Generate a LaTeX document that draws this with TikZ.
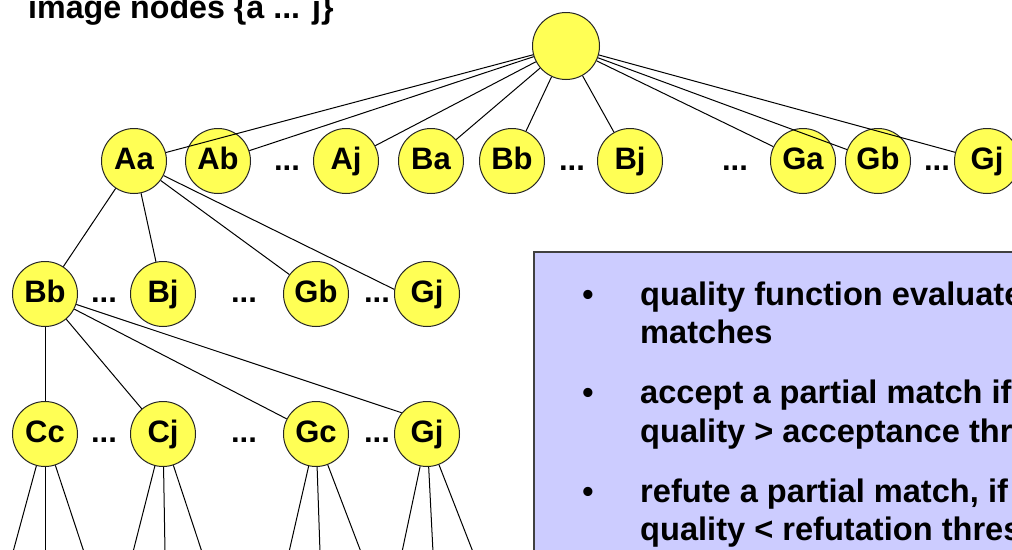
\documentclass[tikz,border=0pt]{standalone}
\usepackage{fontspec}
\setmainfont{Liberation Sans}
\definecolor{nodeyellow}{HTML}{FFFF55}
\definecolor{boxblue}{HTML}{CCCCFF}
\definecolor{boxedge}{HTML}{404040}
\begin{document}
\begin{tikzpicture}[x=1pt,y=-1pt,
  nd/.style={circle,draw=black!85,line width=1pt,fill=nodeyellow,minimum size=65pt,inner sep=0pt,
    font=\fontsize{31}{31}\selectfont\bfseries,text height=23pt,text depth=6pt},
  dots/.style={anchor=base,inner sep=0pt,font=\fontsize{31}{31}\selectfont\bfseries},
  edge/.style={line width=1pt,black},
  txt/.style={anchor=base west,inner sep=0pt,font=\fontsize{32.6}{32.6}\selectfont\bfseries},
  bul/.style={anchor=base,inner sep=0pt,font=\fontsize{32}{32}\selectfont\bfseries},
  title/.style={anchor=base west,inner sep=0pt,font=\fontsize{32.2}{32.2}\selectfont\bfseries}]
\useasboundingbox (0,0) rectangle (1012,549);
\clip (0,0) rectangle (1012,549);
\fill[white] (0,0) rectangle (1012,549);

% title
\node[title] (title) at (28,18) {image nodes \{a ... j\}};

% root
\node[nd,minimum size=67pt] (root) at (566,46) {};

% row 1
\node[nd] (Aa) at (134,161) {Aa};
\node[nd] (Ab) at (218,161) {Ab};
\node[dots] (d11) at (287,170) {...};
\node[nd] (Aj) at (346,161) {Aj};
\node[nd] (Ba) at (431,161) {Ba};
\node[nd] (Bb) at (512,161) {Bb};
\node[dots] (d12) at (572,170) {...};
\node[nd] (Bj) at (630,161) {Bj};
\node[dots] (d13) at (735,170) {...};
\node[nd] (Ga) at (803,161) {Ga};
\node[nd] (Gb) at (878,161) {Gb};
\node[dots] (d14) at (937,170) {...};
\node[nd] (Gj) at (987,161) {Gj};

% row 2
\node[nd] (Bb2) at (45,294) {Bb};
\node[dots] (d21) at (104,302) {...};
\node[nd] (Bj2) at (163,294) {Bj};
\node[dots] (d22) at (244,302) {...};
\node[nd] (Gb2) at (316,294) {Gb};
\node[dots] (d23) at (377,302) {...};
\node[nd] (Gj2) at (427,294) {Gj};

% row 3
\node[nd] (Cc) at (45,434) {Cc};
\node[dots] (d31) at (104,442) {...};
\node[nd] (Cj) at (163,434) {Cj};
\node[dots] (d32) at (244,442) {...};
\node[nd] (Gc) at (316,434) {Gc};
\node[dots] (d33) at (377,442) {...};
\node[nd] (Gj3) at (427,434) {Gj};

% free ends at the bottom
\coordinate (c1) at (13,552);  \coordinate (c2) at (45,552);  \coordinate (c3) at (84,552);
\coordinate (c4) at (133,552); \coordinate (c5) at (165,552); \coordinate (c6) at (202,552);
\coordinate (c7) at (289,552); \coordinate (c8) at (320,552); \coordinate (c9) at (361,552);
\coordinate (c10) at (402,552); \coordinate (c11) at (433,552); \coordinate (c12) at (473,552);

% root edges
\foreach \n in {Aa,Ab,Aj,Ba,Bb,Bj,Ga,Gb,Gj}
  \draw[edge] (root) -- (\n);

% Aa edges
\draw[edge] (Aa) -- (Bb2);
\draw[edge] (Aa) -- (Bj2);
\draw[edge] (Aa) -- (Gb2);
\draw[edge] (Aa) -- (Gj2.172);

% Bb edges
\draw[edge] (Bb2) -- (Cc);
\draw[edge] (Bb2) -- (Cj);
\draw[edge] (Bb2) -- (Gc);
\draw[edge] (Bb2) -- (Gj3.140);

% bottom edges
\draw[edge] (Cc) -- (c1); \draw[edge] (Cc) -- (c2); \draw[edge] (Cc) -- (c3);
\draw[edge] (Cj) -- (c4); \draw[edge] (Cj) -- (c5); \draw[edge] (Cj) -- (c6);
\draw[edge] (Gc) -- (c7); \draw[edge] (Gc) -- (c8); \draw[edge] (Gc) -- (c9);
\draw[edge] (Gj3) -- (c10); \draw[edge] (Gj3) -- (c11); \draw[edge] (Gj3) -- (c12);

% text box
\node[draw=boxedge,line width=2pt,fill=boxblue,minimum width=520pt,minimum height=330pt,anchor=north west,inner sep=0pt] (box) at (533,251) {};
\node[bul] (b1) at (588,305) {\textbullet};
\node[txt] (t1) at (640,305) {quality function evaluate};
\node[txt] (t2) at (640,343) {matches};
\node[bul] (b2) at (588,403) {\textbullet};
\node[txt] (t3) at (640,403) {accept a partial match if};
\node[txt] (t4) at (640,442) {quality > acceptance thr};
\node[bul] (b3) at (588,502) {\textbullet};
\node[txt] (t5) at (640,502) {refute a partial match, if};
\node[txt] (t6) at (640,540) {quality < refutation thres};
\end{tikzpicture}
\end{document}
